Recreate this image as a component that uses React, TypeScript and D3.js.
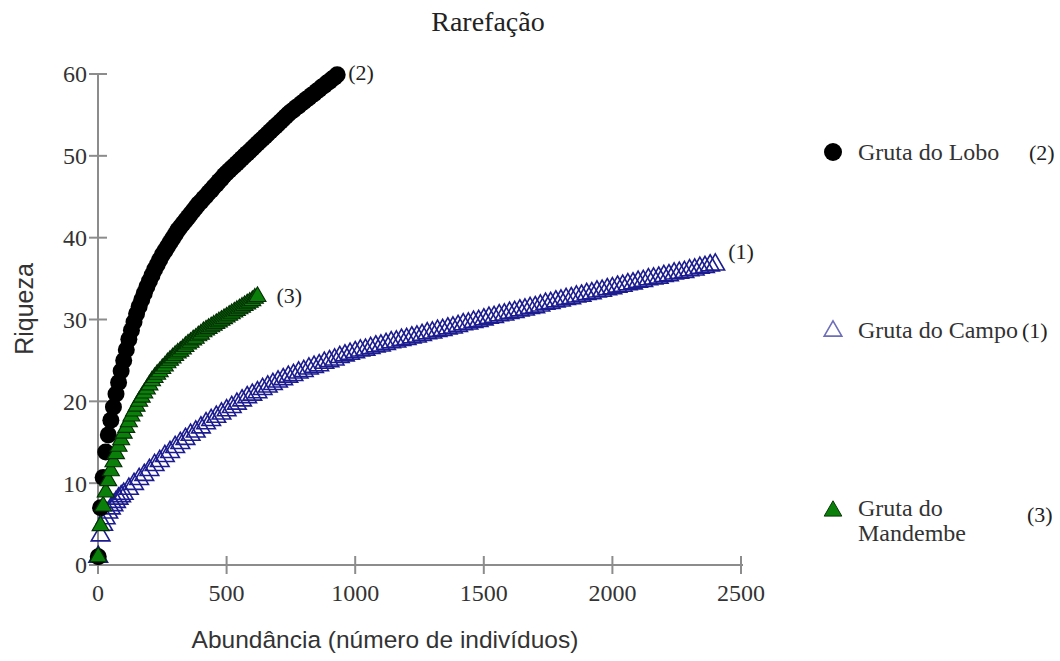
import React from "react";
import * as d3 from "d3";

const W = 1060;
const H = 661;

const xTicks = [0, 500, 1000, 1500, 2000, 2500];
const yTicks = [0, 10, 20, 30, 40, 50, 60];

// Gruta do Lobo (2) - black circles
const loboN = [1, 10, 20, 30, 40, 50, 60, 70, 80, 90, 100, 110, 120, 130, 140, 150, 160, 170, 180, 190, 200, 210, 220, 230, 240, 250, 260, 270, 280, 290, 300, 310, 320, 330, 340, 350, 360, 370, 380, 390, 400, 410, 420, 430, 440, 450, 460, 470, 480, 490, 500, 510, 520, 530, 540, 550, 560, 570, 580, 590, 600, 610, 620, 630, 640, 650, 660, 670, 680, 690, 700, 710, 720, 730, 740, 750, 760, 770, 780, 790, 800, 810, 820, 830, 840, 850, 860, 870, 880, 890, 900, 910, 920, 930];
const loboS = [1, 7, 10.7, 13.8, 15.9, 17.7, 19.3, 20.9, 22.3, 23.7, 25.0, 26.3, 27.6, 28.7, 29.7, 30.7, 31.6, 32.4, 33.2, 34.0, 34.7, 35.4, 36.1, 36.7, 37.3, 37.9, 38.4, 38.9, 39.4, 39.9, 40.4, 40.9, 41.3, 41.7, 42.1, 42.5, 42.9, 43.3, 43.7, 44.1, 44.4, 44.8, 45.1, 45.5, 45.8, 46.2, 46.5, 46.9, 47.2, 47.6, 47.9, 48.2, 48.5, 48.8, 49.1, 49.4, 49.7, 50.0, 50.3, 50.6, 50.9, 51.2, 51.5, 51.8, 52.1, 52.4, 52.7, 53.0, 53.3, 53.6, 53.9, 54.2, 54.5, 54.8, 55.1, 55.4, 55.6, 55.9, 56.1, 56.4, 56.6, 56.9, 57.1, 57.4, 57.6, 57.9, 58.1, 58.4, 58.6, 58.9, 59.1, 59.4, 59.6, 59.9];

// Gruta do Campo (1) - hollow blue triangles
const campoN = [1, 10, 20, 30, 40, 50, 60, 70, 80, 90, 100, 120, 140, 160, 180, 200, 220, 240, 260, 280, 300, 320, 340, 360, 380, 400, 420, 440, 460, 480, 500, 520, 540, 560, 580, 600, 620, 640, 660, 680, 700, 720, 740, 760, 780, 800, 820, 840, 860, 880, 900, 920, 940, 960, 980, 1000, 1020, 1040, 1060, 1080, 1100, 1120, 1140, 1160, 1180, 1200, 1220, 1240, 1260, 1280, 1300, 1320, 1340, 1360, 1380, 1400, 1420, 1440, 1460, 1480, 1500, 1520, 1540, 1560, 1580, 1600, 1620, 1640, 1660, 1680, 1700, 1720, 1740, 1760, 1780, 1800, 1820, 1840, 1860, 1880, 1900, 1920, 1940, 1960, 1980, 2000, 2020, 2040, 2060, 2080, 2100, 2120, 2140, 2160, 2180, 2200, 2220, 2240, 2260, 2280, 2300, 2320, 2340, 2360, 2380, 2400];
const campoS = [1, 3.6, 4.9, 5.7, 6.4, 6.9, 7.3, 7.7, 8.1, 8.4, 8.7, 9.3, 9.9, 10.5, 11.0, 11.6, 12.2, 12.7, 13.3, 13.8, 14.4, 14.9, 15.4, 15.9, 16.3, 16.8, 17.3, 17.7, 18.1, 18.5, 18.9, 19.3, 19.7, 20.1, 20.5, 20.8, 21.1, 21.5, 21.8, 22.1, 22.4, 22.7, 23.0, 23.2, 23.5, 23.7, 24.0, 24.2, 24.4, 24.7, 24.9, 25.1, 25.4, 25.6, 25.8, 26.0, 26.2, 26.3, 26.5, 26.7, 26.8, 27.0, 27.2, 27.3, 27.5, 27.6, 27.8, 27.9, 28.1, 28.3, 28.4, 28.6, 28.7, 28.9, 29.0, 29.2, 29.4, 29.5, 29.7, 29.8, 30.0, 30.2, 30.3, 30.5, 30.6, 30.8, 30.9, 31.1, 31.2, 31.4, 31.5, 31.7, 31.9, 32.0, 32.2, 32.3, 32.5, 32.6, 32.8, 32.9, 33.1, 33.2, 33.4, 33.5, 33.7, 33.8, 34.0, 34.1, 34.3, 34.4, 34.6, 34.7, 34.9, 35.0, 35.1, 35.3, 35.4, 35.6, 35.7, 35.8, 36.0, 36.1, 36.3, 36.4, 36.6, 36.7];

// Gruta do Mandembe (3) - green triangles
const mandN = [1, 10, 20, 30, 40, 50, 60, 70, 80, 90, 100, 110, 120, 130, 140, 150, 160, 170, 180, 190, 200, 210, 220, 230, 240, 250, 260, 270, 280, 290, 300, 310, 320, 330, 340, 350, 360, 370, 380, 390, 400, 410, 420, 430, 440, 450, 460, 470, 480, 490, 500, 510, 520, 530, 540, 550, 560, 570, 580, 590, 600, 610, 620];
const mandS = [1, 4.8, 7.2, 8.9, 10.3, 11.5, 12.6, 13.6, 14.5, 15.3, 16.1, 16.8, 17.5, 18.2, 18.8, 19.4, 20.0, 20.5, 21.0, 21.5, 22.0, 22.5, 22.9, 23.3, 23.6, 24.0, 24.3, 24.7, 25.0, 25.3, 25.6, 25.9, 26.1, 26.4, 26.7, 27.0, 27.2, 27.5, 27.7, 28.0, 28.2, 28.5, 28.7, 28.9, 29.1, 29.3, 29.5, 29.7, 29.9, 30.1, 30.3, 30.5, 30.7, 30.9, 31.1, 31.3, 31.5, 31.7, 31.9, 32.1, 32.3, 32.6, 32.8];

const SERIF = "'Liberation Serif', 'Times New Roman', serif";
const SANS = "'Liberation Sans', Arial, sans-serif";
const AXIS = "#8c8c8c";
const BLUE = "#1c1c90";
const GREEN = "#0a800a";

export default function App() {
  const x = d3.scaleLinear().domain([0, 2500]).range([98, 741]);
  const y = d3.scaleLinear().domain([0, 60]).range([565, 74]);
  const triBlue = d3.symbol(d3.symbolTriangle, 150)() as string;
  const triGreen = d3.symbol(d3.symbolTriangle, 125)() as string;
  const triLeg = d3.symbol(d3.symbolTriangle, 135)() as string;

  const lastLobo = loboN.length - 1;
  const lastCampo = campoN.length - 1;
  const lastMand = mandN.length - 1;

  return (
    <svg width={W} height={H} style={{ position: "absolute", left: 0, top: 0, background: "#fff" }}>
      <rect x={0} y={0} width={W} height={H} fill="#fff" />
      <text x={488} y={31} textAnchor="middle" fontFamily={SERIF} fontSize={28} fill="#222">Rarefação</text>

      {/* axes */}
      <line x1={x(0)} x2={x(0)} y1={y(0)} y2={y(60)} stroke={AXIS} strokeWidth={2} />
      <line x1={91} x2={x(2500) + 2} y1={y(0)} y2={y(0)} stroke={AXIS} strokeWidth={2} />
      {yTicks.map((t) => (
        <g key={"y" + t}>
          <line x1={x(0) - 9} x2={x(0) + 9} y1={y(t)} y2={y(t)} stroke={AXIS} strokeWidth={2} />
          <text x={x(0) - 11} y={y(t)} dy="0.35em" textAnchor="end" fontFamily={SERIF} fontSize={24} fill="#333">{t}</text>
        </g>
      ))}
      {xTicks.map((t) => (
        <g key={"x" + t}>
          <line x1={x(t)} x2={x(t)} y1={y(0) - 9} y2={y(0) + 9} stroke={AXIS} strokeWidth={2} />
          <text x={x(t)} y={601} textAnchor="middle" fontFamily={SERIF} fontSize={24} fill="#333">{t}</text>
        </g>
      ))}
      <text x={385} y={648} textAnchor="middle" fontFamily={SANS} fontSize={24.5} fill="#333">Abundância (número de indivíduos)</text>
      <text transform="translate(33,309) rotate(-90)" textAnchor="middle" fontFamily={SANS} fontSize={25} fill="#333">Riqueza</text>

      {/* Campo */}
      {campoN.map((n, i) => (
        <path key={"c" + i} d={triBlue} transform={`translate(${x(n)},${y(campoS[i])})`} fill="none" stroke={BLUE} strokeWidth={1.6} />
      ))}
      {/* Lobo */}
      {loboN.map((n, i) => (
        <circle key={"l" + i} cx={x(n)} cy={y(loboS[i])} r={8.5} fill="#000" />
      ))}
      {/* Mandembe */}
      {mandN.map((n, i) => (
        <path key={"m" + i} d={triGreen} transform={`translate(${x(n)},${y(mandS[i])})`} fill={GREEN} stroke="#042e04" strokeWidth={1.1} />
      ))}

      {/* end labels */}
      <text x={x(loboN[lastLobo]) + 11} y={y(loboS[lastLobo]) + 5} fontFamily={SERIF} fontSize={22} fill="#222">(2)</text>
      <text x={x(mandN[lastMand]) + 19} y={y(mandS[lastMand]) + 6} fontFamily={SERIF} fontSize={22} fill="#222">(3)</text>
      <text x={x(campoN[lastCampo]) + 13} y={y(campoS[lastCampo]) - 6} fontFamily={SERIF} fontSize={22} fill="#222">(1)</text>

      {/* legend */}
      <circle cx={833} cy={152} r={9} fill="#000" />
      <text x={858} y={160} fontFamily={SERIF} fontSize={24} fill="#333">Gruta do Lobo</text>
      <text x={1029} y={160} fontFamily={SERIF} fontSize={22} fill="#222">(2)</text>

      <path d={triLeg} transform="translate(833,331)" fill="none" stroke="#6d6db8" strokeWidth={1.6} />
      <text x={858} y={338} fontFamily={SERIF} fontSize={24} fill="#333">Gruta do Campo</text>
      <text x={1022} y={338} fontFamily={SERIF} fontSize={22} fill="#222">(1)</text>

      <path d={triLeg} transform="translate(833,511)" fill={GREEN} stroke="#053805" strokeWidth={1} />
      <text x={858} y={516} fontFamily={SERIF} fontSize={24} fill="#333">Gruta do</text>
      <text x={858} y={541} fontFamily={SERIF} fontSize={24} fill="#333">Mandembe</text>
      <text x={1027} y={522} fontFamily={SERIF} fontSize={22} fill="#222">(3)</text>
    </svg>
  );
}
